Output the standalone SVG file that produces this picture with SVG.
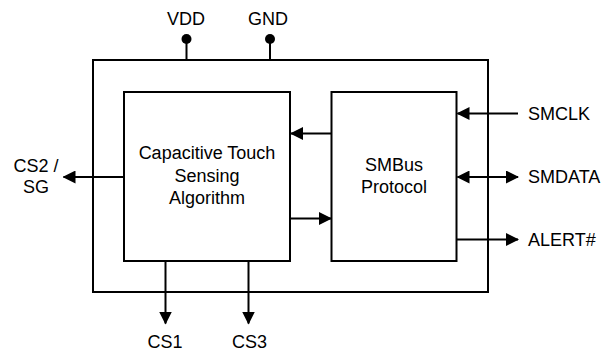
<svg xmlns="http://www.w3.org/2000/svg" width="603" height="351" viewBox="0 0 603 351">
<style>
.box{fill:#fff;stroke:#000;stroke-width:2}
.ln{fill:none;stroke:#000;stroke-width:2}
text{font-family:"Liberation Sans",Arial,sans-serif;font-size:18px;fill:#000}
.c{text-anchor:middle}
</style>
<defs>
<marker id="ah" markerUnits="userSpaceOnUse" markerWidth="13" markerHeight="13" refX="12" refY="6.5" orient="auto-start-reverse">
<path d="M0,0 L13,6.5 L0,13 Z" fill="#000"/>
</marker>
</defs>
<rect width="603" height="351" fill="#fff"/>
<g id="chip">
<rect class="box" x="93" y="60" width="395" height="232"/>
</g>
<g id="pin-vdd">
<line class="ln" x1="186.5" y1="39" x2="186.5" y2="60"/>
<circle cx="186.5" cy="39" r="5" fill="#000"/>
<text class="c" x="186" y="25">VDD</text>
</g>
<g id="pin-gnd">
<line class="ln" x1="270" y1="39" x2="270" y2="60"/>
<circle cx="270" cy="39" r="5" fill="#000"/>
<text class="c" x="268" y="25">GND</text>
</g>
<g id="cts">
<rect class="box" x="124" y="92" width="166" height="169"/>
<text class="c" x="207" y="159">Capacitive Touch</text>
<text class="c" x="207" y="181.5">Sensing</text>
<text class="c" x="207" y="204">Algorithm</text>
</g>
<g id="smbus">
<rect class="box" x="331.5" y="92" width="125" height="169"/>
<text class="c" x="394" y="171">SMBus</text>
<text class="c" x="394" y="192.5">Protocol</text>
</g>
<g id="labels">
<text x="528" y="119.5">SMCLK</text>
<text x="528" y="183">SMDATA</text>
<text x="528" y="245.5">ALERT#</text>
<text class="c" x="36" y="172">CS2 /</text>
<text class="c" x="36" y="193">SG</text>
<text class="c" x="165" y="348">CS1</text>
<text class="c" x="249.5" y="348">CS3</text>
</g>
<g id="connectors">
<line class="ln" x1="518" y1="113.5" x2="457.5" y2="113.5" marker-end="url(#ah)"/>
<line class="ln" x1="457.5" y1="177" x2="518" y2="177" marker-start="url(#ah)" marker-end="url(#ah)"/>
<line class="ln" x1="456.5" y1="239.5" x2="518" y2="239.5" marker-end="url(#ah)"/>
<line class="ln" x1="331.5" y1="133.5" x2="291" y2="133.5" marker-end="url(#ah)"/>
<line class="ln" x1="290" y1="218.5" x2="331" y2="218.5" marker-end="url(#ah)"/>
<line class="ln" x1="124" y1="177" x2="63.5" y2="177" marker-end="url(#ah)"/>
<line class="ln" x1="165.5" y1="261" x2="165.5" y2="323.5" marker-end="url(#ah)"/>
<line class="ln" x1="248.5" y1="261" x2="248.5" y2="323.5" marker-end="url(#ah)"/>
</g>
</svg>
